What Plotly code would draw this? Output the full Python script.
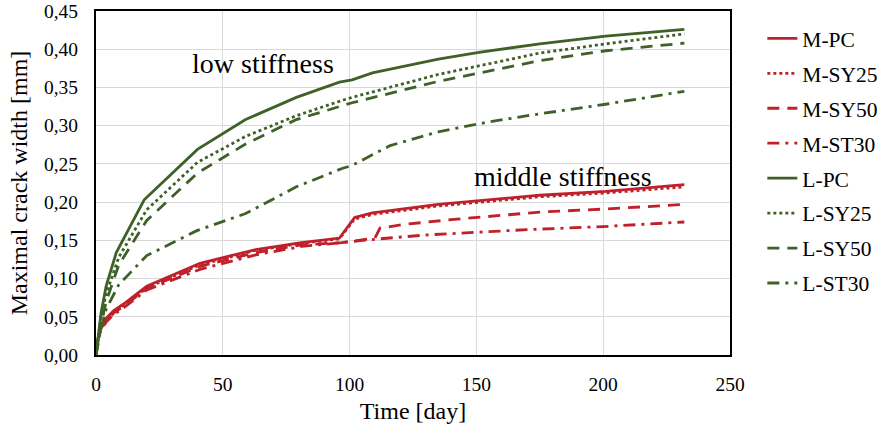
import plotly.graph_objects as go

RED = "#C0202A"
GREEN = "#3F6127"

# ---- data (day, crack width mm) ----
mpc_x = [0, 1, 2, 4, 7, 11, 20, 41, 63, 81, 96, 102, 109, 135, 175, 201, 232]
mpc_y = [0.005, 0.025, 0.037, 0.048, 0.058, 0.067, 0.090, 0.120, 0.138, 0.147, 0.153, 0.180, 0.186, 0.197, 0.209, 0.214, 0.223]

msy25_x = [0, 1, 2, 4, 7, 11, 20, 41, 63, 81, 96, 102, 109, 135, 175, 201, 232]
msy25_y = [0.005, 0.024, 0.036, 0.046, 0.056, 0.065, 0.088, 0.118, 0.137, 0.146, 0.152, 0.178, 0.184, 0.195, 0.207, 0.212, 0.220]

msy50_x = [0, 1, 2, 4, 7, 11, 20, 41, 63, 81, 97, 103, 110, 112, 122, 140, 175, 201, 232]
msy50_y = [0.005, 0.024, 0.035, 0.045, 0.055, 0.064, 0.087, 0.116, 0.134, 0.144, 0.147, 0.150, 0.153, 0.166, 0.171, 0.177, 0.187, 0.191, 0.197]

mst30_x = [0, 1, 2, 4, 7, 11, 20, 41, 63, 81, 97, 105, 130, 170, 200, 232]
mst30_y = [0.005, 0.022, 0.033, 0.043, 0.053, 0.062, 0.085, 0.112, 0.131, 0.142, 0.147, 0.150, 0.157, 0.164, 0.168, 0.174]

lpc_x = [0, 1, 2, 4, 8, 19, 40, 59, 79, 96, 101, 109, 135, 151, 175, 201, 232]
lpc_y = [0.0, 0.030, 0.055, 0.090, 0.134, 0.203, 0.269, 0.308, 0.337, 0.357, 0.360, 0.369, 0.387, 0.396, 0.407, 0.417, 0.426]

lsy25_x = [0, 1, 2, 4, 9, 20, 40, 59, 79, 97, 101, 135, 175, 201, 232]
lsy25_y = [0.0, 0.025, 0.050, 0.080, 0.128, 0.190, 0.252, 0.286, 0.313, 0.333, 0.337, 0.367, 0.395, 0.407, 0.420]

lsy50_x = [0, 1, 2, 4, 9, 20, 40, 59, 79, 96, 101, 135, 175, 201, 232]
lsy50_y = [0.0, 0.020, 0.040, 0.070, 0.118, 0.176, 0.238, 0.276, 0.308, 0.325, 0.330, 0.358, 0.385, 0.398, 0.408]

lst30_x = [0, 1, 2, 4, 9, 20, 40, 59, 79, 97, 101, 116, 135, 155, 172, 201, 232]
lst30_y = [0.0, 0.020, 0.035, 0.060, 0.092, 0.130, 0.163, 0.185, 0.220, 0.244, 0.248, 0.274, 0.292, 0.305, 0.314, 0.328, 0.345]

series = [
    ("M-PC", mpc_x, mpc_y, RED, "solid"),
    ("M-SY25", msy25_x, msy25_y, RED, "dot"),
    ("M-SY50", msy50_x, msy50_y, RED, "12px,8px"),
    ("M-ST30", mst30_x, mst30_y, RED, "12px,6px,3px,6px"),
    ("L-PC", lpc_x, lpc_y, GREEN, "solid"),
    ("L-SY25", lsy25_x, lsy25_y, GREEN, "dot"),
    ("L-SY50", lsy50_x, lsy50_y, GREEN, "12px,8px"),
    ("L-ST30", lst30_x, lst30_y, GREEN, "12px,6px,3px,6px"),
]

FONT = "Liberation Serif"

fig = go.Figure()
for name, xs, ys, col, dash in series:
    fig.add_trace(go.Scatter(x=xs, y=ys, name=name, mode="lines",
                             legendgroup=name,
                             line=dict(color=col, width=2.8, dash=dash)))

fig.add_annotation(x=65.7, y=0.381, text="low stiffness", showarrow=False,
                   font=dict(family=FONT, size=28, color="#000"))
fig.add_annotation(x=184, y=0.233, text="middle stiffness", showarrow=False,
                   font=dict(family=FONT, size=28, color="#000"))

fig.update_layout(
    width=878, height=427,
    margin=dict(l=96, r=148, t=11, b=72, autoexpand=False),
    paper_bgcolor="white", plot_bgcolor="white",
    separators=", ",
    font=dict(family=FONT, size=19.5, color="#000"),
    showlegend=True,
    legend=dict(x=1.051, y=0.98, xanchor="left", yanchor="top",
                font=dict(family=FONT, size=21.5, color="#000"),
                tracegroupgap=4, bgcolor="rgba(0,0,0,0)"),
    xaxis=dict(range=[0, 250], dtick=50, tick0=0, automargin=False,
               showgrid=True, gridcolor="#D9D9D9", gridwidth=1,
               showline=True, linecolor="#000", linewidth=2, mirror=True,
               zeroline=False, ticks="", ticklabelstandoff=11,
               title=dict(text="Time [day]", font=dict(family=FONT, size=24), standoff=8)),
    yaxis=dict(range=[0, 0.45], dtick=0.05, tick0=0, tickformat=".2f", automargin=False,
               showgrid=True, gridcolor="#D9D9D9", gridwidth=1,
               showline=True, linecolor="#000", linewidth=2, mirror=True,
               zeroline=False, ticks="", ticklabelstandoff=12,
               title=dict(text="Maximal crack width [mm]", font=dict(family=FONT, size=24), standoff=10)),
)

fig.write_html("out.html", config={"displayModeBar": False},
               post_script="document.body.style.margin='0';")
